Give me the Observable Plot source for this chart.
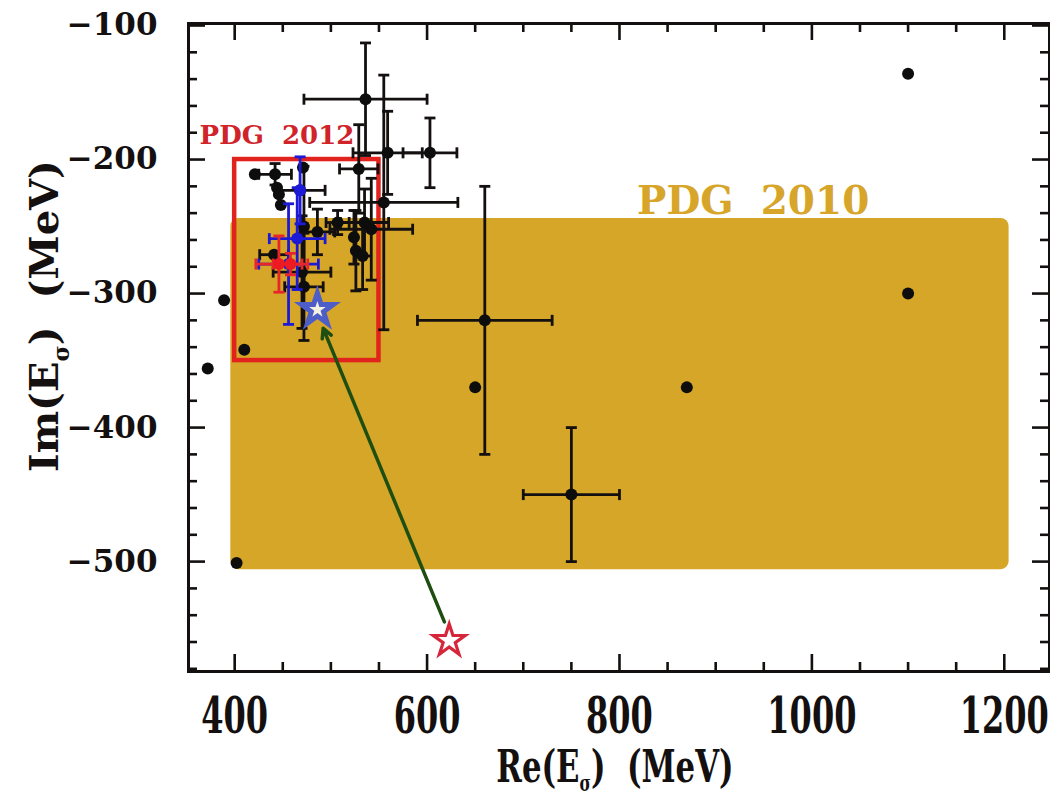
<!DOCTYPE html>
<html>
<head>
<meta charset="utf-8">
<script src="https://cdn.jsdelivr.net/npm/d3@7"></script>
<script src="https://cdn.jsdelivr.net/npm/@observablehq/plot@0.6"></script>
<style>
  body { margin: 0; background: #fff; }
  #chart svg { display: block; }
</style>
</head>
<body>
<div id="chart"></div>
<script>
// ---------- data (MeV) ----------
// black points: Re(E), Im(E), errors
const blackX    = [1100, 1100, 870, 650, 660, 750, 372, 389, 410, 402, 536, 555, 559, 603, 529, 421, 442, 471, 444, 446, 448, 468, 472, 486, 441, 470, 472, 507, 535, 542, 524, 526, 533];
const blackY    = [-136, -300, -370, -370, -320, -450, -356, -305, -342, -501, -155, -232, -195, -195, -207, -211, -211, -206, -221, -226, -234, -223, -250, -254, -271, -284, -295, -247, -247, -252, -258, -268, -272];
const blackXErr = [0, 0, 0, 0, 70, 50, 0, 0, 0, 0, 64, 77, 36, 28, 20, 0, 17, 0, 0, 0, 0, 26, 0, 18, 15, 30, 20, 12, 25, 43, 0, 0, 0];
const blackYErr = [0, 0, 0, 0, 100, 50, 0, 0, 0, 0, 42, 95, 31, 26, 33, 0, 8, 0, 0, 0, 0, 0, 45, 17, 0, 42, 40, 9, 25, 38, 20, 30, 25];

const blueX    = [465, 456, 468];
const blueY    = [-259, -278, -223];
const blueXErr = [29, 31, 0];
const blueYErr = [38, 45, 25];

const redX    = [446, 458];
const redY    = [-278, -278];
const redXErr = [24, 18];
const redYErr = [21, 8];

// PDG 2010 band and PDG 2012 box (Re range, Im range)
const band2010 = [{x1: 396, x2: 1205, y1: -506, y2: -244}];
const box2012  = [{x1: 400, x2: 550, y1: -350, y2: -200}];

// stars and arrow
const redStar  = [{x: 623, y: -559}];
const blueStar = [{x: 486, y: -312}];
const arrowSeg = [{x1: 618, y1: -545, x2: 492, y2: -326}];

// labels
const labels2012 = [{x: 444, y: -182, text: "PDG\u00a0\u00a02012"}];
const labels2010 = [{x: 939, y: -231, text: "PDG\u00a0\u00a02010"}];

// ticks
const xMajor = [400, 600, 800, 1000, 1200];
const xMinor = [450, 500, 550, 650, 700, 750, 850, 900, 950, 1050, 1100, 1150];
const yMajor = [-100, -200, -300, -400, -500];
const yMinor = [-120, -140, -160, -180, -220, -240, -260, -280, -320, -340, -360, -380, -420, -440, -460, -480, -520, -540, -560, -580];

// ---------- build ----------
const zip = (xs, ys, xe, ye) => xs.map((x, i) => ({x, y: ys[i], xe: xe[i], ye: ye[i]}));
const black = zip(blackX, blackY, blackXErr, blackYErr);
const blue  = zip(blueX, blueY, blueXErr, blueYErr);
const red   = zip(redX, redY, redXErr, redYErr);

const W = 1050, H = 799, mL = 188, mT = 23, mR = 1, mB = 128;
const pw = W - mL - mR, ph = H - mT - mB;

const vCap = {draw(c, size) { const r = Math.sqrt(size / Math.PI); c.moveTo(0, -r); c.lineTo(0, r); }};
const hCap = {draw(c, size) { const r = Math.sqrt(size / Math.PI); c.moveTo(-r, 0); c.lineTo(r, 0); }};

function errorMarks(rows, color, sw) {
  const hx = rows.filter(d => d.xe > 0), vy = rows.filter(d => d.ye > 0);
  const capOpts = {r: 5.5, stroke: color, strokeWidth: sw, fill: "none"};
  return [
    Plot.link(hx, {x1: d => d.x - d.xe, x2: d => d.x + d.xe, y1: "y", y2: "y", stroke: color, strokeWidth: sw}),
    Plot.link(vy, {x1: "x", x2: "x", y1: d => d.y - d.ye, y2: d => d.y + d.ye, stroke: color, strokeWidth: sw}),
    Plot.dot(hx, {x: d => d.x - d.xe, y: "y", symbol: vCap, ...capOpts}),
    Plot.dot(hx, {x: d => d.x + d.xe, y: "y", symbol: vCap, ...capOpts}),
    Plot.dot(vy, {x: "x", y: d => d.y - d.ye, symbol: hCap, ...capOpts}),
    Plot.dot(vy, {x: "x", y: d => d.y + d.ye, symbol: hCap, ...capOpts})
  ];
}

const ink = "#141010";
const font = "'DejaVu Serif', 'Liberation Serif', serif";

const chart = Plot.plot({
  width: W, height: H,
  marginLeft: mL, marginTop: mT, marginRight: mR, marginBottom: mB,
  x: {domain: [352, 1247]},
  y: {domain: [-582, -98.5]},
  style: {background: "#fff", fontFamily: font},
  marks: [
    Plot.rect(band2010, {x1: "x1", x2: "x2", y1: "y1", y2: "y2", fill: "#d5a627", rx: 8}),
    Plot.rect(box2012, {x1: "x1", x2: "x2", y1: "y1", y2: "y2", fill: "none", stroke: "#e2221d", strokeWidth: 4.5}),
    Plot.text(labels2012, {x: "x", y: "y", text: "text", fill: "#d0232a", fontSize: 26, fontWeight: "bold", fontFamily: font}),
    Plot.text(labels2010, {x: "x", y: "y", text: "text", fill: "#d6a52a", fontSize: 39, fontWeight: "bold", fontFamily: font}),
    Plot.arrow(arrowSeg, {x1: "x1", y1: "y1", x2: "x2", y2: "y2", stroke: "#1e4e12", strokeWidth: 3.5, headLength: 4.5, headAngle: 55}),
    ...errorMarks(black, ink, 2.8),
    Plot.dot(black, {x: "x", y: "y", r: 6, fill: "#0d0d0d"}),
    ...errorMarks(blue, "#1c1ad6", 2.8),
    Plot.dot(blue, {x: "x", y: "y", r: 6, fill: "#1c1ad6"}),
    ...errorMarks(red, "#e8262a", 2.8),
    Plot.dot(red, {x: "x", y: "y", r: 6, fill: "#ec1a22"}),
    Plot.dot(blueStar, {x: "x", y: "y", symbol: "star", r: 10, fill: "#f4f0e2", stroke: "#4d5ec8", strokeWidth: 5}),
    Plot.dot(redStar, {x: "x", y: "y", symbol: "star", r: 10, fill: "#ffffff", stroke: "#d6263a", strokeWidth: 3.2}),
    // inner ticks on all four sides
    Plot.ruleX(xMajor, {x: d => d, insetTop: ph - 17, stroke: ink, strokeWidth: 2.6}),
    Plot.ruleX(xMinor, {x: d => d, insetTop: ph - 9, stroke: ink, strokeWidth: 2.6}),
    Plot.ruleX(xMajor, {x: d => d, insetBottom: ph - 17, stroke: ink, strokeWidth: 2.6}),
    Plot.ruleX(xMinor, {x: d => d, insetBottom: ph - 9, stroke: ink, strokeWidth: 2.6}),
    Plot.ruleY(yMajor, {y: d => d, insetRight: pw - 17, stroke: ink, strokeWidth: 2.6}),
    Plot.ruleY(yMinor, {y: d => d, insetRight: pw - 9, stroke: ink, strokeWidth: 2.6}),
    Plot.ruleY(yMajor, {y: d => d, insetLeft: pw - 17, stroke: ink, strokeWidth: 2.6}),
    Plot.ruleY(yMinor, {y: d => d, insetLeft: pw - 9, stroke: ink, strokeWidth: 2.6}),
    Plot.frame({stroke: ink, strokeWidth: 3}),
    Plot.axisX(xMajor, {anchor: "bottom", tickSize: 0, tickPadding: 26, fontSize: 50, fontWeight: "bold", fontFamily: font, fill: ink, label: null, tickFormat: d => String(d)}),
    Plot.axisY(yMajor, {anchor: "left", tickSize: 0, tickPadding: 31, fontSize: 31, fontWeight: "bold", fontFamily: font, fill: ink, label: null, tickFormat: d => "\u2212" + Math.abs(d)})
  ]
});

document.getElementById("chart").appendChild(chart);

// condense x tick labels horizontally (as in the reference)
const svg = d3.select(chart.tagName.toLowerCase() === "svg" ? chart : chart.querySelector("svg"));
svg.selectAll('g[aria-label="x-axis tick label"] text').each(function() {
  const t = this.getAttribute("transform");
  if (t) this.setAttribute("transform", t + " scale(0.64,1)");
  else {
    const x = this.getAttribute("x") || 0, y = this.getAttribute("y") || 0;
    this.removeAttribute("x"); this.removeAttribute("y");
    this.setAttribute("transform", `translate(${x},${y}) scale(0.64,1)`);
  }
});

// axis titles with subscript sigma
const xt = svg.append("text")
  .attr("transform", "translate(615,782) scale(0.7,1)")
  .attr("text-anchor", "middle").attr("fill", ink)
  .style("font-family", font).style("font-weight", "bold").style("font-size", "44px");
xt.append("tspan").text("Re(E");
xt.append("tspan").attr("dy", 9).style("font-size", "22px").text("\u03c3");
xt.append("tspan").attr("dy", -9).text(")\u00a0\u00a0(MeV)");

const yt = svg.append("text")
  .attr("transform", "translate(58,316) rotate(-90)")
  .attr("text-anchor", "middle").attr("fill", ink)
  .style("font-family", font).style("font-weight", "bold").style("font-size", "40px");
yt.append("tspan").text("Im(E");
yt.append("tspan").attr("dy", 11).style("font-size", "22px").text("\u03c3");
yt.append("tspan").attr("dy", -11).text(")\u00a0\u00a0(MeV)");
</script>
</body>
</html>
